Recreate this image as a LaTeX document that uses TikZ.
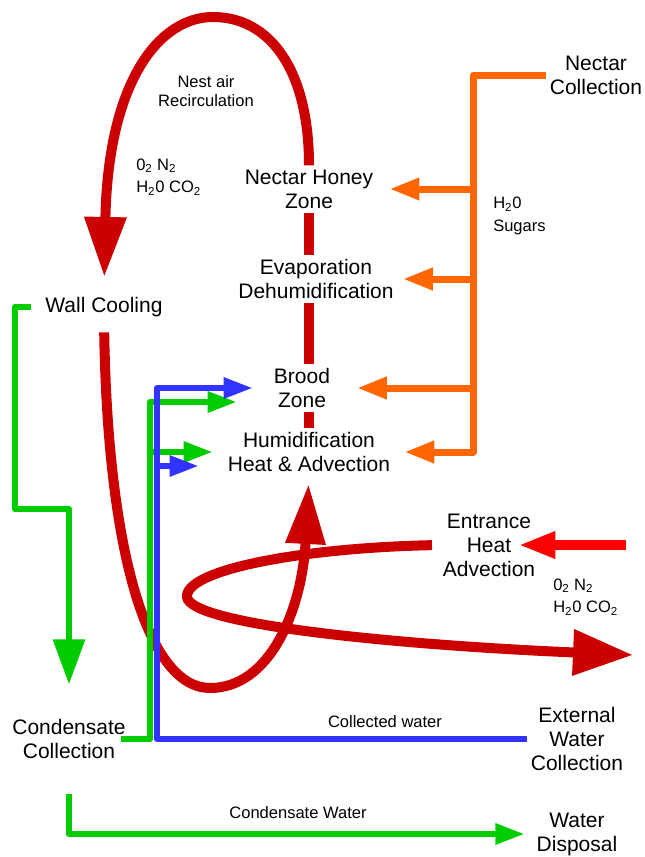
\documentclass[tikz,border=0pt]{standalone}
\usepackage{fontspec}
\setmainfont{Liberation Sans}
\usetikzlibrary{arrows.meta,calc}

\definecolor{airred}{HTML}{CC0000}
\definecolor{hotred}{HTML}{FF0000}
\definecolor{nectarorange}{HTML}{FF6600}
\definecolor{condgreen}{HTML}{00CC00}
\definecolor{waterblue}{HTML}{3333FF}

\tikzset{
  zone/.style={align=center, inner sep=3pt, font=\fontsize{15.75}{18}\selectfont},
  note/.style={align=center, inner sep=3pt, font=\fontsize{12.4}{14.5}\selectfont},
  gas/.style={align=left, anchor=west, inner sep=3pt, font=\fontsize{12.4}{17}\selectfont},
  airflow/.style={draw=airred, line width=7.5pt},
  inflow/.style={draw=hotred, line width=7pt, -{Triangle[length=27.75pt,width=18.75pt]}},
  nectarflow/.style={draw=nectarorange, line width=5.25pt, line join=round, -{Triangle[length=22.5pt,width=15.75pt]}},
  condflow/.style={draw=condgreen, line width=4.5pt, line join=round, -{Triangle[length=21.75pt,width=15pt]}},
  waterflow/.style={draw=waterblue, line width=4.5pt, line join=round, -{Triangle[length=21.75pt,width=15pt]}}
}

\begin{document}
\begin{tikzpicture}[x=0.75pt,y=-0.75pt]
        \useasboundingbox (0,0) rectangle (645,857);

        % Zones inside the nest
        \node[zone] (nectar) at (309,189) {Nectar Honey\\Zone};
        \node[zone] (evap)   at (316,279) {Evaporation\\Dehumidification};
        \node[zone] (brood)  at (302,388) {Brood\\Zone};
        \node[zone] (hum)    at (309,452) {Humidification\\Heat \& Advection};
        \node[zone] (wall)   at (104,307) {Wall Cooling};
        \node[zone] (condcol) at (69,739) {Condensate\\Collection};

        % Outside
        \node[zone] (nectarcol) at (596,75)  {Nectar\\Collection};
        \node[zone] (entrance)  at (489,545) {Entrance\\Heat\\Advection};
        \node[zone] (extcol)    at (577,739) {External\\Water\\Collection};
        \node[zone] (disposal)  at (577,834) {Water\\Disposal};

        % Small labels
        \node[note] (recirc)    at (206,91)  {Nest air\\Recirculation};
        \node[gas]  (gasin)     at (132,177) {0\textsubscript{2} N\textsubscript{2}\\H\textsubscript{2}0 CO\textsubscript{2}};
        \node[gas]  (sugars)    at (489,216) {H\textsubscript{2}0\\Sugars};
        \node[gas]  (gasout)    at (549,597) {0\textsubscript{2} N\textsubscript{2}\\H\textsubscript{2}0 CO\textsubscript{2}};
        \node[note] (collwater) at (385,722) {Collected water};
        \node[note] (condwater) at (298,813) {Condensate Water};

        \coordinate (trunk)      at (473,75);
        \coordinate (greentrunk) at (150,739);
        \coordinate (bluetrunk)  at (157,739);
        \coordinate (outside)    at (626,545);
        \coordinate (broodlow)   at ($(brood.west)+(0,14)$);
        \coordinate (humlow)     at ($(hum.west)+(0,14)$);

        % Air flow
        \draw[airflow,-{Triangle[length=45pt,width=30pt]},shorten >=12pt] (nectar.north) .. controls (309,70) and (270,17) .. (213,17) .. controls (160,17) and (108,80) .. (wall.north);
        \draw[airflow] (nectar.south) -- (nectar.south |- evap.north);
        \draw[airflow] (nectar.south |- evap.south) -- (nectar.south |- brood.north);
        \draw[airflow] (nectar.south |- brood.south) -- (nectar.south |- hum.north);
        \draw[airflow,-{Triangle[length=45pt,width=28.5pt]},shorten <=8.5pt,shorten >=6pt] (wall.south) .. controls (108,560) and (150,688) .. (210,688) .. controls (270,688) and (302,610) .. (hum.south);
        \draw[airflow,-{Triangle[length=45pt,width=33pt]},shorten <=5pt] (entrance.west) .. controls (300,548) and (185,570) .. (187,597) .. controls (190,625) and (400,645) .. (633,655) coordinate (exit);
        \draw[inflow,shorten >=-15.75pt] (outside) -- (entrance);

        % Nectar
        \draw[nectarflow,shorten >=7.5pt] (nectarcol.west) -- (trunk) |- (hum);
        \draw[nectarflow,shorten >=9pt] (trunk |- nectar) -- (nectar);
        \draw[nectarflow,shorten >=3.75pt] (trunk |- evap) -- (evap);
        \draw[nectarflow,shorten >=17pt] (trunk |- brood) -- (brood);

        % Condensate
        \draw[condflow,-{Triangle[length=33.75pt,width=23.25pt]},shorten <=7.5pt,shorten >=23pt] (wall.west) -| (15,509) -| (condcol.north);
        \draw[condflow,shorten <=-6.75pt,shorten >=24.75pt] (condcol.east) -- (greentrunk) |- (broodlow);
        \draw[condflow,shorten >=8.25pt] (greentrunk |- hum) -- (hum);
        \draw[condflow,shorten <=23.25pt,shorten >=6pt] (condcol.south) |- (disposal);

        % Collected water
        \draw[waterflow,shorten >=12.75pt] (extcol.west) -- (bluetrunk) |- (brood);
        \draw[waterflow,shorten >=18.75pt] (humlow -| bluetrunk) -- (humlow);
\end{tikzpicture}
\end{document}
